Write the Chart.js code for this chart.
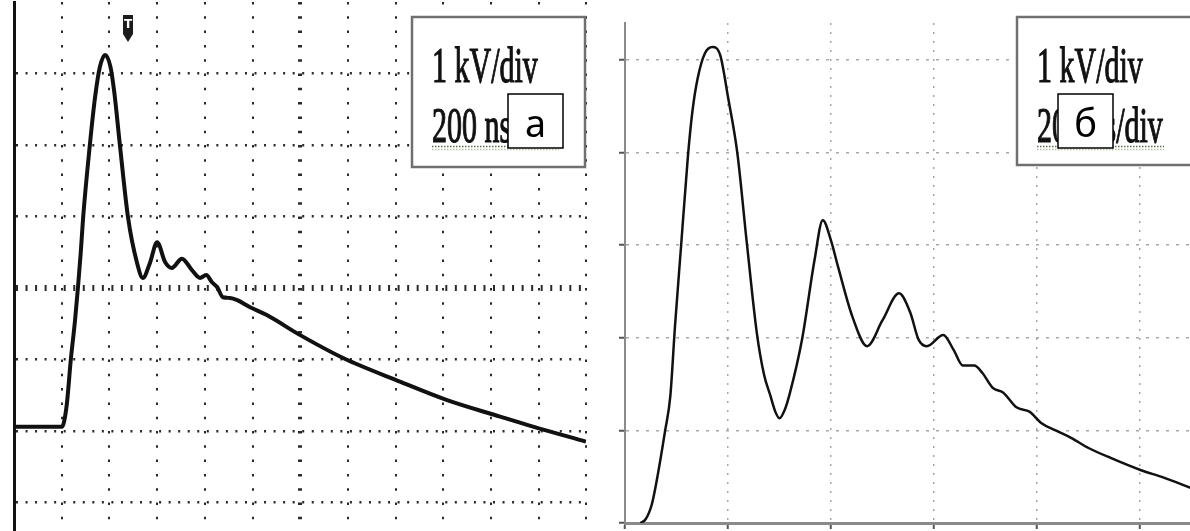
<!DOCTYPE html>
<html>
<head>
<meta charset="utf-8">
<title>Pulse waveforms</title>
<script src="https://cdn.jsdelivr.net/npm/chart.js@4.4.1/dist/chart.umd.min.js"></script>
<style>
  html, body { margin: 0; padding: 0; background: #fff; overflow: hidden; }
  .panel { position: absolute; top: 0; width: 595px; height: 531px; }
  #panelA { left: 0; }
  #panelB { left: 595px; }
</style>
</head>
<body>
<div class="panel" id="panelA"><canvas id="chartA"></canvas></div>
<div class="panel" id="panelB"><canvas id="chartB"></canvas></div>
<script>
// (а) oscilloscope trace: time in ns, voltage in kV relative to screen centre
const timeA = [0, 202, 210, 222, 238, 256, 268, 280, 290, 318, 340, 360, 382, 404, 420, 444, 478, 516, 540, 570, 600,
  634, 662, 704, 746, 780, 806, 830, 852, 876, 906, 936, 990, 1060, 1200, 1380, 1618, 1816, 2038, 2176, 2398];
const voltA = [-1.94, -1.94, -1.87, -1.61, -1.01, -0.45, 0, 0.5, 0.99, 2.0, 2.67, 3.09, 3.26, 3.1, 2.75, 2.0, 0.99, 0.35, 0.14, 0.35, 0.64,
  0.36, 0.28, 0.41, 0.25, 0.14, 0.18, 0.08, 0.01, -0.13, -0.14, -0.17, -0.27, -0.38, -0.66, -0.98, -1.31, -1.57, -1.80, -1.94, -2.15];
const gridTimeA = [200, 400, 600, 800, 1000, 1200, 1400, 1600, 1800, 2000, 2200, 2400];
const gridVoltA = [-3, -2, -1, 0, 1, 2, 3];
const triggerTimeA = 478;

// (б) calculated pulse: time in ns, voltage in kV
const timeB = [30, 40, 52, 62, 78, 88, 97, 109, 122, 131, 141, 155, 170, 185, 200, 218, 237, 256, 270, 282, 292, 300, 310, 320, 344, 368, 384,
  400, 414, 442, 470, 500, 532, 554, 570, 586, 618, 638, 656, 678, 694, 714, 734, 760, 786, 808, 836, 866, 900, 944, 1002, 1046, 1098];
const voltB = [0, 0.04, 0.2, 0.47, 1.0, 1.37, 2.12, 3.0, 3.95, 4.45, 4.8, 5.07, 5.14, 5.05, 4.6, 4.0, 3.0, 2.05, 1.6, 1.38, 1.2, 1.13, 1.22, 1.40, 1.99, 2.84, 3.27,
  3.05, 2.76, 2.22, 1.91, 2.19, 2.48, 2.27, 1.98, 1.91, 2.03, 1.87, 1.70, 1.70, 1.62, 1.46, 1.41, 1.25, 1.20, 1.08, 1.0, 0.92, 0.81, 0.70, 0.57, 0.49, 0.38];
const gridTimeB = [0, 200, 400, 600, 800, 1000];
const gridVoltB = [0, 1, 2, 3, 4, 5];

const legendLines = ['1 kV/div', '200 ns/div'];
const panelLabels = ['а', 'б'];

const toPoints = (xs, ys) => xs.map((x, i) => ({ x: x, y: ys[i] }));
const setTicks = list => scale => { scale.ticks = list.map(v => ({ value: v })); };

// legend frame, panel letter and trigger marker drawn over the plot
const notesPlugin = {
  id: 'scopeNotes',
  afterDraw(chart, args, o) {
    const ctx = chart.ctx;
    ctx.save();

    if (o.trigger != null) {
      const tx = chart.scales.x.getPixelForValue(o.trigger);
      ctx.fillStyle = '#1c1c1c';
      ctx.beginPath();
      ctx.moveTo(tx - 5, 15);
      ctx.lineTo(tx + 5, 15);
      ctx.lineTo(tx + 5, 34);
      ctx.lineTo(tx, 42);
      ctx.lineTo(tx - 5, 34);
      ctx.closePath();
      ctx.fill();
      ctx.fillStyle = '#fff';
      ctx.font = 'bold 12px "DejaVu Sans", sans-serif';
      ctx.textAlign = 'center';
      ctx.textBaseline = 'middle';
      ctx.fillText('T', tx, 25);
    }

    const f = o.frame;
    ctx.fillStyle = '#fff';
    ctx.fillRect(f[0], f[1], f[2], f[3]);
    ctx.strokeStyle = '#707070';
    ctx.lineWidth = 2.5;
    ctx.strokeRect(f[0], f[1], f[2], f[3]);

    ctx.fillStyle = '#111';
    ctx.strokeStyle = '#111';
    ctx.lineWidth = 1.2;
    ctx.font = '50px "Liberation Serif", "Times New Roman", serif';
    ctx.textAlign = 'left';
    ctx.textBaseline = 'alphabetic';
    legendLines.forEach((line, i) => {
      ctx.save();
      ctx.translate(o.textX, 82 + i * 60);
      ctx.scale(0.6, 1);
      ctx.fillText(line, 0, 0);
      ctx.strokeText(line, 0, 0);
      ctx.restore();
    });

    // spell-check style underline under the second line
    ctx.setLineDash([1.5, 1.5]);
    ctx.lineWidth = 1.5;
    ctx.strokeStyle = '#5d6e4c';
    ctx.beginPath();
    ctx.moveTo(o.textX, 146.5);
    ctx.lineTo(o.textX + 127, 146.5);
    ctx.stroke();
    ctx.strokeStyle = '#b5c2a6';
    ctx.beginPath();
    ctx.moveTo(o.textX, 149.5);
    ctx.lineTo(o.textX + 127, 149.5);
    ctx.stroke();
    ctx.setLineDash([]);

    const b = o.labelBox;
    ctx.fillStyle = '#fff';
    ctx.fillRect(b[0], b[1], b[2], b[3]);
    ctx.strokeStyle = '#000';
    ctx.lineWidth = 1.5;
    ctx.strokeRect(b[0], b[1], b[2], b[3]);
    ctx.fillStyle = '#000';
    ctx.font = '38px "Noto Sans", "DejaVu Sans", sans-serif';
    ctx.textAlign = 'center';
    ctx.fillText(o.label, b[0] + b[2] / 2, 137);
    ctx.restore();
  }
};

const baseOptions = {
  responsive: true,
  maintainAspectRatio: false,
  animation: false,
  devicePixelRatio: 1,
  events: []
};

new Chart(document.getElementById('chartA'), {
  type: 'line',
  data: {
    datasets: [{
      data: toPoints(timeA, voltA),
      borderColor: '#111',
      borderWidth: 4,
      pointRadius: 0,
      cubicInterpolationMode: 'monotone',
      borderJoinStyle: 'round'
    }]
  },
  options: Object.assign({}, baseOptions, {
    layout: { padding: { left: 14, top: 2, right: 8.6, bottom: 0 } },
    scales: {
      x: {
        type: 'linear', min: 0, max: 2400,
        afterBuildTicks: setTicks(gridTimeA),
        ticks: { display: false },
        grid: { drawTicks: false, color: '#2a2a2a', lineWidth: c => (c.tick && c.tick.value === 1200 ? 4 : 2) },
        border: { display: false, dash: [2.5, 11.8] }
      },
      y: {
        type: 'linear', min: -3.4, max: 4,
        afterBuildTicks: setTicks(gridVoltA),
        ticks: { display: false },
        grid: { drawTicks: false, color: '#2a2a2a', lineWidth: c => (c.tick && c.tick.value === 0 ? 6 : 2.5) },
        border: { display: true, color: '#111', width: 3, dash: [2, 7.54] }
      }
    },
    plugins: {
      legend: { display: false },
      tooltip: { enabled: false },
      scopeNotes: { frame: [412, 17, 173, 150], textX: 432, labelBox: [508, 94, 55, 54], label: panelLabels[0], trigger: triggerTimeA }
    }
  }),
  plugins: [notesPlugin]
});

new Chart(document.getElementById('chartB'), {
  type: 'line',
  data: {
    datasets: [{
      data: toPoints(timeB, voltB),
      borderColor: '#111',
      borderWidth: 2.5,
      pointRadius: 0,
      cubicInterpolationMode: 'monotone'
    }]
  },
  options: Object.assign({}, baseOptions, {
    layout: { padding: { left: 24, top: 23, right: 0, bottom: 2 } },
    scales: {
      x: {
        type: 'linear', min: 0, max: 1097,
        afterBuildTicks: setTicks(gridTimeB),
        ticks: { display: false },
        grid: { drawTicks: true, tickLength: 6, tickWidth: 2, tickColor: '#555', color: '#a8a8a8', lineWidth: 1.5 },
        border: { display: true, color: '#8a8a8a', width: 3, dash: [2, 7] }
      },
      y: {
        type: 'linear', min: 0, max: 5.4,
        afterBuildTicks: setTicks(gridVoltB),
        ticks: { display: false },
        grid: { drawTicks: true, tickLength: 6, tickWidth: 2, tickColor: '#555', color: '#a8a8a8', lineWidth: 1.5 },
        border: { display: true, color: '#8a8a8a', width: 2, dash: [3, 7] }
      }
    },
    plugins: {
      legend: { display: false },
      tooltip: { enabled: false },
      scopeNotes: { frame: [422, 17, 200, 148], textX: 442, labelBox: [463, 94, 55, 54], label: panelLabels[1] }
    }
  }),
  plugins: [notesPlugin]
});
</script>
</body>
</html>
